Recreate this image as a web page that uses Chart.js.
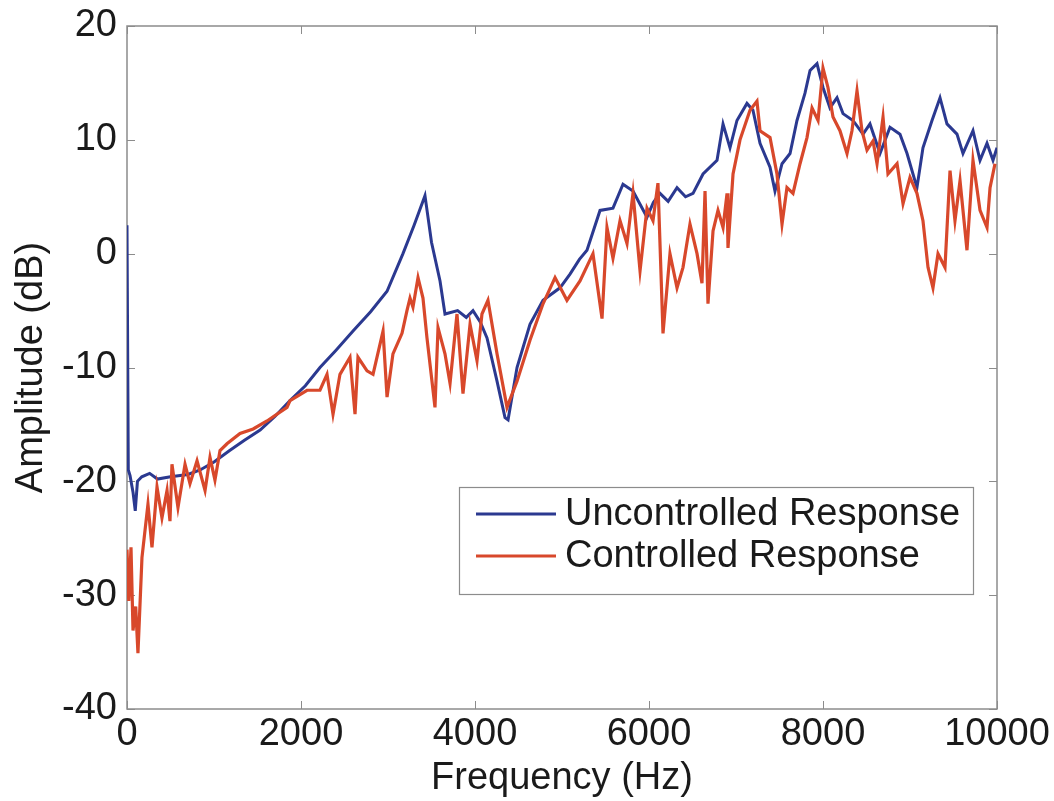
<!DOCTYPE html>
<html>
<head>
<meta charset="utf-8">
<title>Amplitude vs Frequency</title>
<script src="https://cdn.jsdelivr.net/npm/chart.js@4.4.1/dist/chart.umd.min.js"></script>
<style>
  html, body { margin: 0; padding: 0; background: #fff; }
  #chart { display: block; }
</style>
</head>
<body>
<canvas id="chart" width="1054" height="801"></canvas>
<script>
/* ── Дані: неконтрольований відгук ── */
var freqU = [0, 15, 35, 70, 95, 120, 170, 260, 350, 500, 700, 840, 1000, 1180, 1350, 1530, 1700, 1874,
  2050, 2218, 2400, 2598, 2800, 2989, 3172, 3300, 3425, 3500, 3598, 3655, 3800, 3900, 3977, 4060,
  4138, 4253, 4345, 4380, 4483, 4632, 4782, 4977, 5092, 5200, 5287, 5437, 5586, 5701, 5816, 5977,
  6050, 6126, 6220, 6322, 6420, 6506, 6621, 6782, 6851, 6931, 7011, 7126, 7195, 7276, 7391, 7448,
  7529, 7621, 7701, 7793, 7851, 7931, 8000, 8080, 8161, 8230, 8345, 8460, 8540, 8655, 8770, 8885,
  8966, 9080, 9149, 9253, 9345, 9425, 9540, 9609, 9724, 9805, 9885, 9954, 10000];
var ampU = [2.5, -19.0, -19.5, -21.0, -22.6, -20.0, -19.6, -19.3, -19.8, -19.6, -19.4, -19.0, -18.3,
  -17.3, -16.4, -15.5, -14.3, -12.9, -11.6, -10.0, -8.5, -6.8, -5.1, -3.3, 0, 2.5, 5.1, 1.0, -2.4,
  -5.3, -5.0, -5.6, -5.0, -6.0, -7.4, -11.2, -14.4, -14.6, -10.0, -6.2, -4.1, -3.0, -1.8, -0.5, 0.3,
  3.8, 4.0, 6.1, 5.5, 3.2, 4.5, 5.3, 4.6, 5.8, 5.0, 5.3, 7.0, 8.2, 11.4, 9.3, 11.7, 13.2, 12.6, 9.7,
  7.6, 5.5, 7.9, 8.8, 11.7, 14.1, 16.1, 16.7, 14.6, 12.8, 13.7, 12.3, 11.7, 10.5, 11.4, 8.8, 11.1,
  10.5, 8.8, 5.8, 9.3, 11.7, 13.7, 11.4, 10.5, 8.8, 10.8, 8.2, 9.7, 8.2, 9.3];

/* ── Дані: контрольований відгук ── */
var freqC = [0, 20, 46, 69, 100, 126, 172, 241, 287, 345, 402, 460, 494, 517, 586, 667, 724, 805, 897,
  954, 1011, 1069, 1149, 1299, 1450, 1609, 1839, 1874, 2069, 2218, 2299, 2368, 2448, 2563, 2621,
  2655, 2759, 2828, 2943, 2989, 3057, 3161, 3218, 3253, 3287, 3345, 3402, 3448, 3540, 3575, 3655,
  3713, 3793, 3862, 3943, 4023, 4080, 4149, 4253, 4368, 4483, 4632, 4782, 4920, 5057, 5207, 5356,
  5460, 5517, 5586, 5667, 5747, 5816, 5897, 5977, 6046, 6103, 6161, 6241, 6322, 6391, 6471, 6552,
  6609, 6644, 6678, 6736, 6793, 6851, 6897, 6908, 6966, 7046, 7161, 7241, 7276, 7391, 7471, 7529,
  7586, 7655, 7736, 7816, 7874, 7943, 8000, 8057, 8115, 8195, 8276, 8333, 8391, 8448, 8506, 8575,
  8621, 8690, 8747, 8851, 8920, 9000, 9080, 9149, 9207, 9264, 9322, 9402, 9460, 9517, 9575, 9655,
  9724, 9805, 9885, 9920, 9977];
var ampC = [-26.0, -30.5, -25.8, -33.1, -31.0, -35.1, -26.7, -22.0, -25.8, -20.5, -23.2, -20.8, -23.5,
  -18.5, -22.3, -18.5, -20.2, -18.2, -20.8, -17.9, -19.9, -17.3, -16.7, -15.8, -15.4, -14.7, -13.5,
  -12.9, -12.0, -12.0, -10.6, -14.1, -10.6, -9.1, -14.1, -9.1, -10.3, -10.6, -6.8, -12.6, -8.8, -7.0,
  -5.0, -3.9, -4.7, -2.1, -3.9, -7.4, -13.5, -6.5, -8.8, -11.4, -5.3, -12.3, -6.2, -9.4, -5.3, -4.1,
  -8.8, -13.5, -11.2, -7.6, -4.4, -2.1, -4.1, -2.4, 0, -5.7, 2.3, -0.4, 2.9, 0.9, 5.3, -1.5, 4.0, 2.9,
  6.2, -7.0, 0, -3.0, -1.2, 2.6, 0, -2.6, 5.5, -4.4, 2.0, 3.8, 2.3, 5.3, 0.5, 7.0, 10.0, 12.6, 13.4,
  10.8, 10.2, 7.0, 2.6, 5.8, 5.3, 7.9, 10.2, 12.8, 11.7, 16.3, 14.6, 12.0, 10.8, 8.8, 10.8, 14.3, 10.8,
  9.1, 9.9, 7.9, 12.0, 7.0, 7.9, 4.4, 6.7, 5.3, 2.9, -1.2, -3.0, 0, -1.2, 7.3, 2.9, 6.4, 0.3, 8.2, 3.8,
  2.3, 5.8, 7.9];

/* ── Осі ── */
var xTicks = [0, 2000, 4000, 6000, 8000, 10000];
var yTicks = [-40, -30, -20, -10, 0, 10, 20];

var FONT = '"Liberation Sans", Arial, Helvetica, sans-serif';
var BLUE = '#2b3990';
var RED  = '#d8482b';
var BOX  = '#8c8c8c';

function toPoints( xs, ys ) {
    return xs.map( function ( x, i ) { return { x: x, y: ys[ i ] }; } );
}

/* Рамка + внутрішні риски у стилі MATLAB */
var boxPlugin = {
    id: 'matlabBox',
    beforeDatasetsDraw: function ( chart ) {
        var a = chart.chartArea, ctx = chart.ctx;
        var sx = chart.scales.x, sy = chart.scales.y;
        var tl = 8;
        ctx.save();
        ctx.strokeStyle = BOX;
        ctx.lineWidth = 1.5;
        ctx.strokeRect( a.left, a.top, a.right - a.left, a.bottom - a.top );
        ctx.beginPath();
        xTicks.forEach( function ( v ) {
            var px = Math.round( sx.getPixelForValue( v ) ) + 0.5;
            ctx.moveTo( px, a.bottom ); ctx.lineTo( px, a.bottom - tl );
            ctx.moveTo( px, a.top );    ctx.lineTo( px, a.top + tl );
        } );
        yTicks.forEach( function ( v ) {
            var py = Math.round( sy.getPixelForValue( v ) ) + 0.5;
            ctx.moveTo( a.left, py );  ctx.lineTo( a.left + tl, py );
            ctx.moveTo( a.right, py ); ctx.lineTo( a.right - tl, py );
        } );
        ctx.lineWidth = 1;
        ctx.stroke();
        ctx.restore();
    }
};

/* Легенда в рамці всередині графіку */
var legendPlugin = {
    id: 'boxLegend',
    afterDatasetsDraw: function ( chart ) {
        var ctx = chart.ctx;
        var x0 = 459, y0 = 487, w = 514, h = 107;
        var rows = [ chart.data.datasets[ 0 ], chart.data.datasets[ 1 ] ];
        ctx.save();
        ctx.fillStyle = '#fff';
        ctx.fillRect( x0, y0, w, h );
        ctx.strokeStyle = BOX;
        ctx.lineWidth = 1.2;
        ctx.strokeRect( x0 + 0.5, y0 + 0.5, w, h );
        ctx.font = '38px ' + FONT;
        ctx.textBaseline = 'middle';
        ctx.textAlign = 'left';
        rows.forEach( function ( ds, i ) {
            var cy = 514 + i * 42;
            ctx.strokeStyle = ds.borderColor;
            ctx.lineWidth = 3;
            ctx.beginPath();
            ctx.moveTo( 476, cy ); ctx.lineTo( 556, cy );
            ctx.stroke();
            ctx.fillStyle = '#1a1a1a';
            ctx.fillText( ds.label, 565, cy + 1 );
        } );
        ctx.restore();
    }
};

new Chart( document.getElementById( 'chart' ), {
    type: 'line',
    data: {
        datasets: [ {
            label: 'Uncontrolled Response',
            data: toPoints( freqU, ampU ),
            borderColor: BLUE,
            borderWidth: 3,
            pointRadius: 0,
            tension: 0,
            order: 1
        }, {
            label: 'Controlled Response',
            data: toPoints( freqC, ampC ),
            borderColor: RED,
            borderWidth: 3.2,
            pointRadius: 0,
            tension: 0,
            order: 0
        } ]
    },
    options: {
        responsive: false,
        animation: false,
        layout: { padding: { left: 0, top: 26, right: 57, bottom: 0 } },
        plugins: {
            legend: { display: false },
            tooltip: { enabled: false }
        },
        scales: {
            x: {
                type: 'linear',
                min: 0,
                max: 10000,
                afterBuildTicks: function ( s ) { s.ticks = xTicks.map( function ( v ) { return { value: v }; } ); },
                afterFit: function ( s ) { s.height = 92; },
                grid: { display: false, drawTicks: false },
                border: { display: false },
                ticks: { color: '#1a1a1a', font: { family: FONT, size: 38 }, padding: 3, maxRotation: 0,
                         callback: function ( v ) { return String( v ); } },
                title: { display: true, text: 'Frequency (Hz)', color: '#1a1a1a',
                         font: { family: FONT, size: 38 }, padding: { top: 0, bottom: 0 } }
            },
            y: {
                type: 'linear',
                min: -40,
                max: 20,
                afterBuildTicks: function ( s ) { s.ticks = yTicks.map( function ( v ) { return { value: v }; } ); },
                // ширина осі фіксована, верхній відступ бере layout.padding
                afterFit: function ( s ) { s.width = 127; s.paddingTop = 0; s.paddingBottom = 0; },
                grid: { display: false, drawTicks: false },
                border: { display: false },
                ticks: { color: '#1a1a1a', font: { family: FONT, size: 38 }, padding: 10 },
                title: { display: true, text: 'Amplitude (dB)', color: '#1a1a1a',
                         font: { family: FONT, size: 38 }, padding: { top: 9, bottom: 0 } }
            }
        }
    },
    plugins: [ boxPlugin, legendPlugin ]
} );
</script>
</body>
</html>
